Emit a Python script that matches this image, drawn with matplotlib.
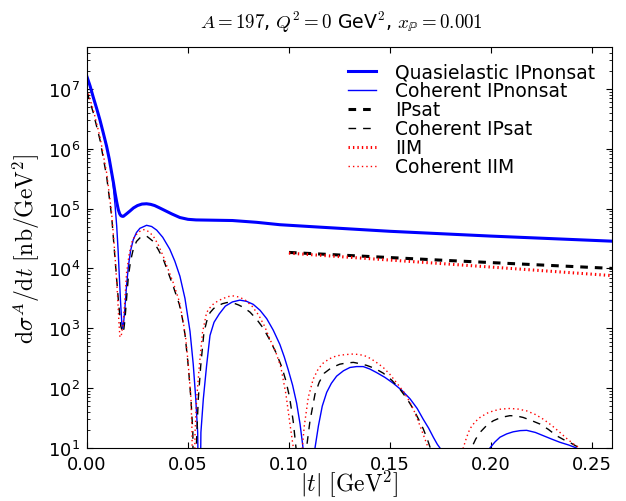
import numpy as np
import matplotlib
matplotlib.use("Agg")
from matplotlib import pyplot as plt

# |t| in GeV^2 and log10 of dsigma/dt in nb/GeV^2.
# points below 1 (log10 < 1) sit under the lower axis limit, i.e. the diffractive zeros
t_quasi = [0.0, 0.0015, 0.003, 0.0047, 0.0064, 0.008, 0.0097, 0.011, 0.0122, 0.0131,
           0.0139, 0.0147, 0.0155, 0.0162, 0.0168, 0.0175, 0.018, 0.0195, 0.0213,
           0.023, 0.025, 0.0272, 0.0295, 0.0315, 0.0335, 0.0357, 0.0378, 0.042,
           0.046, 0.05, 0.054, 0.063, 0.072, 0.084, 0.0955, 0.115, 0.15, 0.2, 0.26]
log_quasi_ipnonsat = [7.2, 7.05, 6.87, 6.68, 6.48, 6.27, 6.04, 5.83, 5.60, 5.43,
                      5.26, 5.11, 4.98, 4.91, 4.88, 4.87, 4.87, 4.91, 4.96,
                      5.01, 5.05, 5.075, 5.08, 5.07, 5.05, 5.015, 4.98, 4.91,
                      4.85, 4.82, 4.81, 4.805, 4.80, 4.77, 4.73, 4.69, 4.62, 4.54, 4.455]

t_coh_ipnonsat = [0.0, 0.0015, 0.003, 0.0047, 0.0064, 0.008, 0.0097, 0.011, 0.0122,
                  0.013, 0.0139, 0.0147, 0.0154, 0.016, 0.0166, 0.0172, 0.0176,
                  0.0182, 0.0188, 0.0196, 0.0205, 0.0216, 0.0229, 0.0245, 0.0262,
                  0.0295, 0.032, 0.0345, 0.0375, 0.041, 0.0435, 0.046, 0.0485,
                  0.051, 0.0526, 0.0538, 0.0548, 0.0557,
                  0.0564, 0.0576, 0.0592, 0.0609, 0.0629, 0.0655, 0.0685, 0.072,
                  0.0757, 0.079, 0.0823, 0.0857, 0.089, 0.0922, 0.0955, 0.0977,
                  0.0997, 0.1018, 0.1038, 0.1055, 0.1068, 0.1079, 0.1104,
                  0.1129, 0.1146, 0.1165, 0.1187, 0.121, 0.1236, 0.127, 0.1302,
                  0.1335, 0.1368, 0.14, 0.1434, 0.1475, 0.1517, 0.156, 0.160,
                  0.1635, 0.1665, 0.1692, 0.1715, 0.1735, 0.1748, 0.178, 0.196,
                  0.1995, 0.202, 0.2045, 0.2078, 0.211, 0.2145, 0.2177, 0.222,
                  0.226, 0.230, 0.2342, 0.2385, 0.2424, 0.2445, 0.26]
log_coh_ipnonsat = [7.2, 7.05, 6.87, 6.68, 6.48, 6.27, 6.04, 5.83, 5.60,
                    5.37, 5.05, 4.71, 4.30, 3.87, 3.45, 3.10, 3.0,
                    3.12, 3.35, 3.72, 4.04, 4.30, 4.48, 4.60, 4.67,
                    4.72, 4.70, 4.64, 4.52, 4.32, 4.12, 3.87, 3.50,
                    2.95, 2.40, 1.85, 1.26, -1.0,
                    1.26, 1.82, 2.37, 2.88, 3.10, 3.24, 3.37, 3.44,
                    3.47, 3.45, 3.40, 3.30, 3.16, 2.97, 2.73, 2.52,
                    2.30, 2.05, 1.75, 1.40, 1.05, 0.7, -1.0,
                    1.0, 1.37, 1.70, 1.93, 2.08, 2.20, 2.29, 2.345,
                    2.36, 2.36, 2.32, 2.26, 2.18, 2.08, 1.96, 1.82,
                    1.66, 1.48, 1.33, 1.18, 1.06, 1.0, 0.0, 0.0,
                    1.0, 1.10, 1.18, 1.235, 1.27, 1.29, 1.295, 1.26,
                    1.205, 1.15, 1.095, 1.05, 1.0, 0.0, 0.0]

t_coh_ipsat = [0.0, 0.0031, 0.0064, 0.0097, 0.0122, 0.0139, 0.0155, 0.0167, 0.0177,
               0.0183, 0.0188, 0.0196, 0.0205, 0.0216, 0.0229, 0.0245, 0.0262,
               0.0278, 0.0295, 0.031, 0.0328, 0.0352, 0.0378, 0.04, 0.0427,
               0.0457, 0.0472, 0.0485, 0.0502, 0.0515, 0.0524, 0.053,
               0.0541, 0.0551, 0.0563, 0.0579, 0.0593, 0.0609, 0.0627, 0.0645,
               0.067, 0.0693, 0.071, 0.0726, 0.075, 0.0774, 0.0807, 0.084,
               0.0873, 0.0906, 0.0935, 0.0965, 0.0985, 0.1003, 0.1021, 0.1035, 0.106,
               0.1087, 0.1104, 0.1129, 0.115, 0.1175, 0.121, 0.1252, 0.1285,
               0.1319, 0.135, 0.1385, 0.1425, 0.1467, 0.151, 0.155, 0.1585,
               0.1616, 0.1642, 0.1665, 0.1685, 0.170, 0.172, 0.188,
               0.1904, 0.1925, 0.1946, 0.198, 0.2012, 0.205, 0.2094, 0.2127,
               0.216, 0.22, 0.2243, 0.2285, 0.2325, 0.236, 0.239, 0.2418, 0.244,
               0.2455, 0.26]
log_coh_ipsat = [6.95, 6.6, 6.15, 5.54, 4.87, 4.15, 3.48, 3.04, 2.92,
                 3.0, 3.15, 3.5, 3.87, 4.13, 4.32, 4.45, 4.51,
                 4.54, 4.54, 4.50, 4.45, 4.32, 4.15, 3.95, 3.70,
                 3.40, 3.17, 2.90, 2.35, 1.80, 1.26, -1.0,
                 1.0, 1.82, 2.37, 2.93, 3.12, 3.26, 3.33, 3.37,
                 3.41, 3.43, 3.43, 3.42, 3.39, 3.35, 3.27, 3.15,
                 3.0, 2.8, 2.6, 2.35, 2.12, 1.85, 1.45, 1.0, -1.0,
                 1.0, 1.45, 1.9, 2.1, 2.25, 2.34, 2.40, 2.42,
                 2.43, 2.41, 2.38, 2.33, 2.25, 2.13, 1.98, 1.82,
                 1.65, 1.48, 1.32, 1.15, 1.0, 0.0, 0.0,
                 1.0, 1.15, 1.26, 1.38, 1.455, 1.51, 1.54, 1.535,
                 1.51, 1.46, 1.40, 1.31, 1.205, 1.14, 1.095, 1.04, 1.0,
                 0.0, 0.0]

t_coh_iim = [0.0, 0.0031, 0.0064, 0.0097, 0.0122, 0.0139, 0.0152, 0.0158, 0.0163,
             0.0171, 0.018, 0.0188, 0.0196, 0.0208, 0.0221, 0.0237, 0.0254,
             0.027, 0.0287, 0.0307, 0.0328, 0.0352, 0.0378, 0.04, 0.0427,
             0.0457, 0.0477, 0.049, 0.0502, 0.0515, 0.052, 0.0525,
             0.0535, 0.0543, 0.0556, 0.0572, 0.0592, 0.0605, 0.063, 0.0668,
             0.07, 0.0726, 0.0755, 0.0784, 0.0817, 0.085, 0.088, 0.0908,
             0.0935, 0.096, 0.0985, 0.1005, 0.1022, 0.1046,
             0.1066, 0.1076, 0.1096, 0.112, 0.1145, 0.117, 0.12, 0.1236,
             0.1278, 0.1319, 0.135, 0.1385, 0.1425, 0.1467, 0.15, 0.1533,
             0.157, 0.160, 0.1625, 0.1649, 0.167, 0.169, 0.1705, 0.185,
             0.1863, 0.188, 0.1896, 0.192, 0.1946, 0.198, 0.2012, 0.205,
             0.2094, 0.2135, 0.2177, 0.222, 0.226, 0.230, 0.2342, 0.2375,
             0.2408, 0.244, 0.2455, 0.26]
log_coh_iim = [6.99, 6.65, 6.2, 5.6, 4.92, 4.2, 3.5, 3.1, 2.85,
               2.9, 3.1, 3.5, 3.93, 4.22, 4.43, 4.54, 4.60,
               4.64, 4.65, 4.61, 4.54, 4.40, 4.20, 4.0, 3.76,
               3.45, 3.10, 2.80, 2.37, 1.82, 1.26, -1.0,
               1.26, 1.82, 2.37, 2.93, 3.26, 3.33, 3.42, 3.49,
               3.53, 3.54, 3.52, 3.47, 3.37, 3.22, 3.03, 2.8,
               2.6, 2.35, 1.9, 1.4, 1.0, -1.0,
               1.0, 1.37, 1.85, 2.15, 2.32, 2.42, 2.49, 2.54,
               2.56, 2.57, 2.56, 2.53, 2.45, 2.345, 2.23, 2.09,
               1.93, 1.76, 1.58, 1.37, 1.18, 1.0, 0.0, 0.0,
               1.0, 1.18, 1.32, 1.43, 1.51, 1.58, 1.62, 1.65,
               1.66, 1.65, 1.62, 1.56, 1.48, 1.38, 1.26, 1.16,
               1.07, 1.0, 0.0, 0.0]

t_sat = [0.1, 0.18, 0.26]
log_ipsat = [4.267, 4.13, 4.0]
log_iim = [4.255, 4.07, 3.88]


def setup():
    plt.rcParams["mathtext.fontset"] = "cm"
    plt.rcParams["font.family"] = "DejaVu Sans"
    plt.rcParams["lines.scale_dashes"] = False
    plt.rcParams["xtick.direction"] = "in"
    plt.rcParams["ytick.direction"] = "in"
    plt.rcParams["xtick.top"] = True
    plt.rcParams["ytick.right"] = True
    plt.rcParams["xtick.major.size"] = 4
    plt.rcParams["ytick.major.size"] = 4
    plt.rcParams["xtick.minor.size"] = 2
    plt.rcParams["ytick.minor.size"] = 2
    plt.rcParams["xtick.labelsize"] = 13
    plt.rcParams["ytick.labelsize"] = 13
    plt.rcParams["xtick.major.pad"] = 5
    plt.rcParams["ytick.major.pad"] = 5


def pw(vals):
    return 10.0 ** np.array(vals)


def main():
    setup()
    fig = plt.figure(figsize=(6.26, 5.02), dpi=100)
    ax = fig.add_axes([0.139, 0.1056, 0.8387, 0.7988])

    ax.plot(t_quasi, pw(log_quasi_ipnonsat), color="b", lw=2.2, label="Quasielastic IPnonsat")
    ax.plot(t_coh_ipnonsat, pw(log_coh_ipnonsat), color="b", lw=1.0, label="Coherent IPnonsat")
    ax.plot(t_sat, pw(log_ipsat), color="k", lw=2.2, dashes=(5.5, 5), label="IPsat")
    ax.plot(t_coh_ipsat, pw(log_coh_ipsat), color="k", lw=1.0, dashes=(5.5, 5), label="Coherent IPsat")
    ax.plot(t_sat, pw(log_iim), color="r", lw=2.2, dashes=(1, 2.2), label="IIM")
    ax.plot(t_coh_iim, pw(log_coh_iim), color="r", lw=1.0, dashes=(1, 2.2), label="Coherent IIM")

    ax.set_yscale("log")
    ax.set_xlim(0, 0.26)
    ax.set_ylim(10, 5e7)
    ax.set_xticks([0.0, 0.05, 0.10, 0.15, 0.20, 0.25])
    ax.set_xticklabels(["0.00", "0.05", "0.10", "0.15", "0.20", "0.25"])

    ax.set_xlabel(r"$|t|\ [\mathrm{GeV}^2]$", fontsize=17, labelpad=-4)
    ax.set_ylabel(r"$\mathrm{d}\sigma^A/\mathrm{d}t\ [\mathrm{nb}/\mathrm{GeV}^2]$", fontsize=17)
    ax.set_title(r"$A=197$, $Q^2=0$ GeV$^2$, $x_\mathbb{P}=0.001$", fontsize=13.6, pad=14, x=0.485)

    ax.legend(loc="upper right", frameon=False, fontsize=13.5, labelspacing=0.0,
              handlelength=1.5, handletextpad=1.0, borderaxespad=0.3,
              bbox_to_anchor=(0.993, 0.995))

    fig.savefig("out.png", dpi=100)


main()
